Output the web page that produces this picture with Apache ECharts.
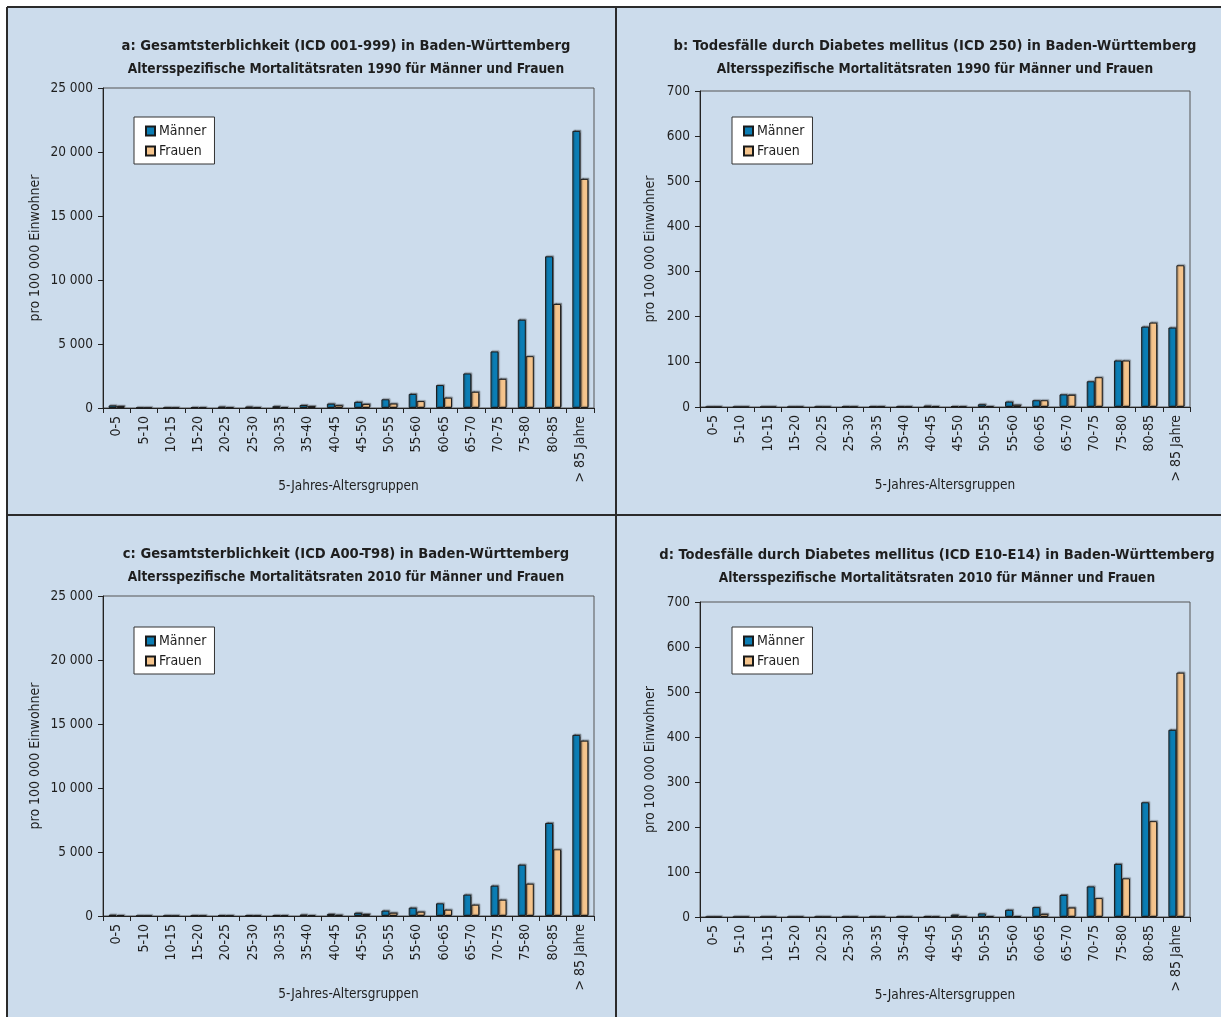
<!DOCTYPE html>
<html>
<head>
<meta charset="utf-8">
<script src="https://cdn.jsdelivr.net/npm/echarts@6/dist/echarts.min.js"></script>
<style>
  html, body { margin: 0; padding: 0; background: #ffffff; }
  #chart { width: 1221px; height: 1017px; }
</style>
</head>
<body>
<div id="chart"></div>
<script>
// Age groups (5-year bands)
const ageGroups = ['0-5', '5-10', '10-15', '15-20', '20-25', '25-30', '30-35', '35-40', '40-45',
  '45-50', '50-55', '55-60', '60-65', '65-70', '70-75', '75-80', '80-85', '> 85 Jahre'];

// a: all-cause mortality 1990, per 100 000
const allCauseMen1990 = [200, 25, 25, 75, 110, 110, 140, 230, 340, 480, 680, 1100, 1790, 2700, 4420, 6900, 11850, 21650];
const allCauseWomen1990 = [160, 15, 18, 35, 45, 55, 80, 150, 220, 320, 350, 540, 810, 1270, 2280, 4050, 8130, 17900];

// b: diabetes mellitus deaths 1990, per 100 000
const diabetesMen1990 = [0, 0, 0, 0, 0.3, 1, 1, 1, 3, 2, 6, 12, 15, 28, 57, 103, 178, 176];
const diabetesWomen1990 = [0, 0, 0, 0, 0, 0.5, 1, 0.5, 1.5, 1, 1.5, 5, 15, 27, 66, 103, 187, 314];

// c: all-cause mortality 2010, per 100 000
const allCauseMen2010 = [100, 12, 15, 40, 60, 65, 75, 110, 160, 250, 420, 650, 990, 1670, 2370, 4010, 7270, 14150];
const allCauseWomen2010 = [80, 10, 12, 20, 25, 30, 40, 60, 100, 160, 260, 340, 495, 885, 1275, 2525, 5210, 13700];

// d: diabetes mellitus deaths 2010, per 100 000
const diabetesMen2010 = [0, 0, 0, 0, 0.3, 0.5, 0.8, 1, 1.5, 5, 8, 16, 22, 49, 68, 118, 255, 416];
const diabetesWomen2010 = [0, 0, 0, 0, 0, 0.2, 0.3, 0.3, 0.5, 0.5, 2, 2, 7, 21, 42, 86, 213, 543];

const panelTitles = [
  ['a: Gesamtsterblichkeit (ICD 001-999) in Baden-Württemberg', 'Altersspezifische Mortalitätsraten 1990 für Männer und Frauen'],
  ['b: Todesfälle durch Diabetes mellitus (ICD 250) in Baden-Württemberg', 'Altersspezifische Mortalitätsraten 1990 für Männer und Frauen'],
  ['c: Gesamtsterblichkeit (ICD A00-T98) in Baden-Württemberg', 'Altersspezifische Mortalitätsraten 2010 für Männer und Frauen'],
  ['d: Todesfälle durch Diabetes mellitus (ICD E10-E14) in Baden-Württemberg', 'Altersspezifische Mortalitätsraten 2010 für Männer und Frauen']
];
const yAxisName = 'pro 100 000 Einwohner';
const xAxisName = '5-Jahres-Altersgruppen';
const seriesNames = ['Männer', 'Frauen'];

const FONT = "'Liberation Sans Narrow', 'DejaVu Sans Condensed', 'Liberation Sans', Arial, sans-serif";
const MEN_COLOR = '#0b7db4';
const WOMEN_COLOR = '#f5c48c';
const PANEL_BG = '#ccdcec';
const INK = '#1e1e1e';

// Panel layout: plot rectangle, title centre, legend corner
const panels = [
  { grid: { left: 103, top: 88, width: 491, height: 320 }, titleX: 346, titleY: 38, legend: [134, 117], max: 25000, interval: 5000, men: allCauseMen1990, women: allCauseWomen1990 },
  { grid: { left: 700, top: 91, width: 490, height: 316 }, titleX: 935, titleY: 38, legend: [732, 117], max: 700, interval: 100, men: diabetesMen1990, women: diabetesWomen1990 },
  { grid: { left: 103, top: 596, width: 491, height: 320 }, titleX: 346, titleY: 546, legend: [134, 627], max: 25000, interval: 5000, men: allCauseMen2010, women: allCauseWomen2010 },
  { grid: { left: 700, top: 602, width: 490, height: 315 }, titleX: 937, titleY: 547, legend: [732, 627], max: 700, interval: 100, men: diabetesMen2010, women: diabetesWomen2010 }
];

function thousands(v) {
  return String(v).replace(/\B(?=(\d{3})+(?!\d))/g, ' ');
}

const barShadow = { shadowColor: 'rgba(40,40,40,0.45)', shadowBlur: 1, shadowOffsetX: 1, shadowOffsetY: -1 };

const option = {
  animation: false,
  backgroundColor: '#ffffff',
  textStyle: { fontFamily: FONT },
  graphic: [
    // panel backgrounds inside the outer frame
    { type: 'rect', z: -10, silent: true, shape: { x: 7, y: 7, width: 1221, height: 1017 }, style: { fill: PANEL_BG } },
    // outer frame (top and left) and dividers
    { type: 'line', z: 10, shape: { x1: 7, y1: 7, x2: 1221, y2: 7 }, style: { stroke: '#2b2b2b', lineWidth: 2 } },
    { type: 'line', z: 10, shape: { x1: 7, y1: 7, x2: 7, y2: 1017 }, style: { stroke: '#2b2b2b', lineWidth: 2 } },
    { type: 'line', z: 10, shape: { x1: 616, y1: 7, x2: 616, y2: 1017 }, style: { stroke: '#2b2b2b', lineWidth: 2 } },
    { type: 'line', z: 10, shape: { x1: 7, y1: 515, x2: 1221, y2: 515 }, style: { stroke: '#2b2b2b', lineWidth: 2 } }
  ],
  title: panels.map((p, i) => ({
    text: panelTitles[i][0],
    subtext: panelTitles[i][1],
    left: p.titleX,
    top: p.titleY,
    textAlign: 'center',
    padding: 0,
    itemGap: 6,
    textStyle: { fontFamily: FONT, fontSize: 14.6, fontWeight: 'bold', color: INK, lineHeight: 17 },
    subtextStyle: { fontFamily: FONT, fontSize: 13.6, fontWeight: 'bold', color: INK, lineHeight: 16 }
  })),
  legend: panels.map((p) => ({
    data: seriesNames,
    orient: 'vertical',
    left: p.legend[0],
    top: p.legend[1],
    backgroundColor: '#ffffff',
    borderColor: '#333333',
    borderWidth: 1,
    padding: [7, 8, 6, 11],
    itemGap: 6,
    itemWidth: 9,
    itemHeight: 9,
    icon: 'rect',
    selectedMode: false,
    textStyle: { fontFamily: FONT, fontSize: 14, color: INK, padding: [0, 0, 0, -1] }
  })),
  grid: panels.map((p) => Object.assign({ show: true, borderColor: '#555555', borderWidth: 1, backgroundColor: 'transparent' }, p.grid)),
  xAxis: panels.map((p, i) => ({
    type: 'category',
    gridIndex: i,
    data: ageGroups,
    name: xAxisName,
    nameLocation: 'middle',
    nameGap: 71,
    nameMoveOverlap: false,
    nameTextStyle: { fontFamily: FONT, fontSize: 13.5, color: INK },
    axisLine: { lineStyle: { color: '#222222', width: 1 } },
    axisTick: { show: true, length: 5, lineStyle: { color: '#222222' } },
    axisLabel: { rotate: 90, margin: 8, fontFamily: FONT, fontSize: 14, color: INK, interval: 0 }
  })),
  yAxis: panels.map((p, i) => ({
    type: 'value',
    gridIndex: i,
    min: 0,
    max: p.max,
    interval: p.interval,
    name: yAxisName,
    nameLocation: 'middle',
    nameGap: p.max > 1000 ? 61 : 43,
    nameMoveOverlap: false,
    nameTextStyle: { fontFamily: FONT, fontSize: 14, color: INK },
    axisLine: { show: true, lineStyle: { color: '#222222', width: 1 } },
    axisTick: { show: true, length: 5, lineStyle: { color: '#222222' } },
    splitLine: { show: false },
    axisLabel: { margin: 10, fontFamily: FONT, fontSize: 13.5, color: INK, formatter: thousands }
  })),
  series: panels.flatMap((p, i) => [
    {
      name: seriesNames[0], type: 'bar', xAxisIndex: i, yAxisIndex: i,
      data: p.men, barWidth: 8, barGap: '0%',
      itemStyle: Object.assign({ color: MEN_COLOR, borderColor: '#1a1a1a', borderWidth: 1 }, barShadow)
    },
    {
      name: seriesNames[1], type: 'bar', xAxisIndex: i, yAxisIndex: i,
      data: p.women, barWidth: 8, barGap: '0%',
      itemStyle: Object.assign({ color: WOMEN_COLOR, borderColor: '#1a1a1a', borderWidth: 1 }, barShadow)
    }
  ])
};

const chart = echarts.init(document.getElementById('chart'), null, { renderer: 'canvas' });
chart.setOption(option);
</script>
</body>
</html>
